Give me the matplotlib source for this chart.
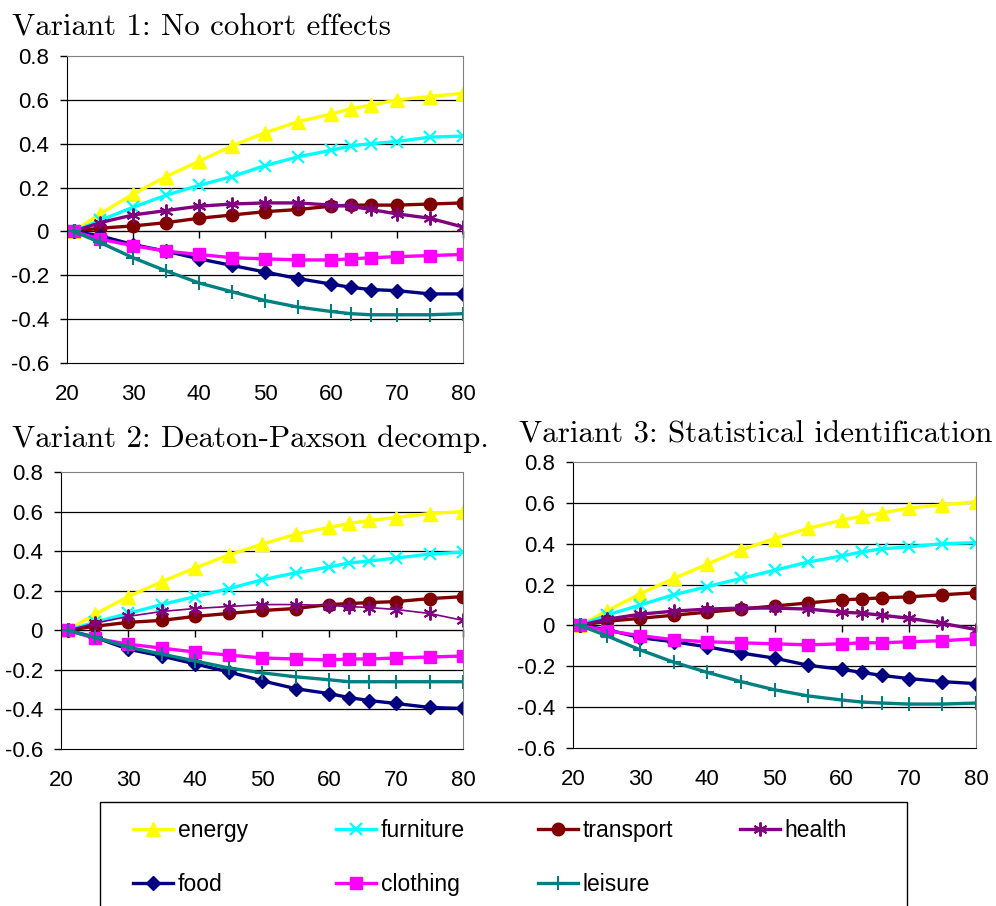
import matplotlib
matplotlib.use('Agg')
import matplotlib.pyplot as plt
from matplotlib.lines import Line2D
from matplotlib.patches import Rectangle

# возраст (ось X)
ages = [21, 25, 30, 35, 40, 45, 50, 55, 60, 63, 66, 70, 75, 80]

# Variant 1: No cohort effects
v1_energy = [0, 0.08, 0.17, 0.25, 0.32, 0.39, 0.45, 0.50, 0.535, 0.56, 0.575, 0.60, 0.615, 0.63]
v1_furniture = [0, 0.05, 0.11, 0.165, 0.21, 0.25, 0.30, 0.34, 0.37, 0.39, 0.40, 0.41, 0.43, 0.435]
v1_transport = [0, 0.015, 0.025, 0.04, 0.06, 0.075, 0.09, 0.10, 0.115, 0.12, 0.12, 0.12, 0.125, 0.13]
v1_health = [0, 0.04, 0.075, 0.095, 0.115, 0.125, 0.13, 0.13, 0.12, 0.115, 0.10, 0.08, 0.06, 0.02]
v1_food = [0, -0.02, -0.06, -0.09, -0.125, -0.155, -0.185, -0.215, -0.24, -0.255, -0.265, -0.27, -0.285, -0.285]
v1_clothing = [0, -0.035, -0.065, -0.09, -0.105, -0.12, -0.125, -0.13, -0.13, -0.125, -0.12, -0.115, -0.11, -0.105]
v1_leisure = [0, -0.05, -0.12, -0.18, -0.235, -0.275, -0.315, -0.345, -0.365, -0.375, -0.38, -0.38, -0.38, -0.375]

# Variant 2: Deaton-Paxson decomp.
v2_energy = [0, 0.08, 0.17, 0.245, 0.315, 0.38, 0.435, 0.485, 0.52, 0.54, 0.555, 0.57, 0.59, 0.60]
v2_furniture = [0, 0.04, 0.085, 0.13, 0.17, 0.21, 0.255, 0.29, 0.32, 0.34, 0.35, 0.365, 0.385, 0.395]
v2_transport = [0, 0.02, 0.04, 0.05, 0.07, 0.085, 0.10, 0.11, 0.13, 0.135, 0.14, 0.145, 0.16, 0.17]
v2_health = [0, 0.035, 0.07, 0.095, 0.11, 0.12, 0.13, 0.13, 0.125, 0.12, 0.115, 0.105, 0.085, 0.05]
v2_food = [0, -0.035, -0.095, -0.13, -0.17, -0.21, -0.255, -0.295, -0.32, -0.34, -0.355, -0.37, -0.39, -0.395]
v2_clothing = [0, -0.04, -0.07, -0.09, -0.11, -0.125, -0.14, -0.145, -0.15, -0.145, -0.145, -0.14, -0.135, -0.13]
v2_leisure = [0, -0.035, -0.085, -0.12, -0.155, -0.19, -0.215, -0.235, -0.25, -0.26, -0.26, -0.26, -0.26, -0.26]

# Variant 3: Statistical identification
v3_energy = [0, 0.07, 0.155, 0.23, 0.30, 0.37, 0.425, 0.475, 0.515, 0.535, 0.55, 0.575, 0.59, 0.605]
v3_furniture = [0, 0.05, 0.10, 0.15, 0.19, 0.23, 0.27, 0.31, 0.34, 0.36, 0.375, 0.385, 0.40, 0.405]
v3_transport = [0, 0.02, 0.035, 0.05, 0.065, 0.08, 0.095, 0.11, 0.125, 0.13, 0.135, 0.14, 0.15, 0.16]
v3_health = [0, 0.03, 0.055, 0.07, 0.08, 0.085, 0.085, 0.08, 0.065, 0.06, 0.05, 0.035, 0.01, -0.02]
v3_food = [0, -0.02, -0.06, -0.08, -0.105, -0.135, -0.16, -0.195, -0.215, -0.23, -0.245, -0.26, -0.275, -0.285]
v3_clothing = [0, -0.025, -0.05, -0.07, -0.08, -0.085, -0.09, -0.095, -0.09, -0.085, -0.085, -0.08, -0.075, -0.065]
v3_leisure = [0, -0.05, -0.12, -0.18, -0.23, -0.275, -0.315, -0.345, -0.365, -0.375, -0.38, -0.385, -0.385, -0.38]

categories = ['energy', 'furniture', 'transport', 'health', 'food', 'clothing', 'leisure']
titles = ['Variant 1: No cohort effects',
          'Variant 2: Deaton-Paxson decomp.',
          'Variant 3: Statistical identification']
x_ticks = [20, 30, 40, 50, 60, 70, 80]
y_ticks = [-0.6, -0.4, -0.2, 0, 0.2, 0.4, 0.6, 0.8]
y_labels = ['-0.6', '-0.4', '-0.2', '0', '0.2', '0.4', '0.6', '0.8']

# стили серий
styles = {
    'energy':    dict(color='#FFFF00', marker='^', ms=10),
    'furniture': dict(color='#00FFFF', marker='x', ms=9, mew=1.6),
    'transport': dict(color='#800000', marker='o', ms=9),
    'health':    dict(color='#800080', marker=(6, 2, 0), ms=10, mew=1.4),
    'food':      dict(color='#000080', marker='D', ms=7),
    'clothing':  dict(color='#FF00FF', marker='s', ms=8.5),
    'leisure':   dict(color='#008080', marker='+', ms=10, mew=1.5),
}

W, H = 996, 906
fig = plt.figure(figsize=(W / 100, H / 100), dpi=100)
TICK_FONT = 'Liberation Sans'
TITLE_FONT = 'cmr10'


def px_axes(l, t, r, b):
    ''' оси по пиксельным координатам '''
    return fig.add_axes([l / W, 1 - b / H, (r - l) / W, (b - t) / H])


def draw_panel(ax, series, health_lw=2.4):
    for name, vals in zip(categories, series):
        st = dict(styles[name])
        lw = health_lw if name == 'health' else 2.4
        ax.plot(ages, vals, lw=lw, color=st.pop('color'), marker=st.pop('marker'),
                mec=styles[name]['color'], mfc=styles[name]['color'], **st)
    ax.set_xlim(20, 80)
    ax.set_ylim(-0.6, 0.8)
    ax.set_xticks(x_ticks)
    ax.set_xticklabels([str(t) for t in x_ticks], fontfamily=TICK_FONT, fontsize=16)
    ax.set_yticks(y_ticks)
    ax.set_yticklabels(y_labels, fontfamily=TICK_FONT, fontsize=16)
    ax.tick_params(axis='x', length=0, pad=15)
    ax.tick_params(axis='y', direction='out', length=5, width=1, pad=8)
    for g in [-0.4, -0.2, 0, 0.2, 0.4, 0.6]:
        ax.axhline(g, color='black', lw=0.9, zorder=0.5)
    ax.spines['top'].set_color('#808080')
    ax.spines['right'].set_color('#808080')
    ax.spines['left'].set_color('black')
    ax.spines['bottom'].set_color('black')
    # ось категорий пересекает ноль
    sec = ax.secondary_xaxis(0.6 / 1.4)
    sec.set_xticks(x_ticks[1:])
    sec.tick_params(direction='out', length=5, width=1, labelbottom=False, labeltop=False)
    sec.spines['bottom'].set_color('black')


ax1 = px_axes(67, 56, 463, 363)
ax2 = px_axes(61, 472, 463, 749)
ax3 = px_axes(573, 462, 976, 748)

draw_panel(ax1, [v1_energy, v1_furniture, v1_transport, v1_health, v1_food, v1_clothing, v1_leisure])
draw_panel(ax2, [v2_energy, v2_furniture, v2_transport, v2_health, v2_food, v2_clothing, v2_leisure],
           health_lw=1.2)
draw_panel(ax3, [v3_energy, v3_furniture, v3_transport, v3_health, v3_food, v3_clothing, v3_leisure])

# заголовки
fig.text(12 / W, 1 - 36 / H, titles[0], fontfamily=TITLE_FONT, fontsize=22.3, va='baseline')
fig.text(12 / W, 1 - 447 / H, titles[1], fontfamily=TITLE_FONT, fontsize=22.3, va='baseline')
fig.text(519 / W, 1 - 443 / H, titles[2], fontfamily=TITLE_FONT, fontsize=22.3, va='baseline')

# легенда: рамка и 4 колонки
fig.patches.append(Rectangle((100 / W, 1 - 960 / H), 807 / W, 158 / H, transform=fig.transFigure,
                             fill=False, edgecolor='black', lw=1, clip_on=False))


def handle(name):
    st = styles[name]
    return Line2D([], [], color=st['color'], lw=2.4, marker=st['marker'],
                  ms=st['ms'], mew=st.get('mew', 1), mec=st['color'], mfc=st['color'])


columns = [['energy', 'food'], ['furniture', 'clothing'], ['transport', 'leisure'], ['health']]
col_x = [133, 336, 538, 740]
for names, cx in zip(columns, col_x):
    fig.legend(handles=[handle(n) for n in names], labels=names, loc='upper left',
               bbox_to_anchor=(cx / W, 1 - 819 / H), frameon=False, borderpad=0,
               borderaxespad=0, handlelength=1.75, handletextpad=0.2, labelspacing=1.35,
               prop={'family': TICK_FONT, 'size': 16.5})

fig.savefig('out.png', dpi=100)
